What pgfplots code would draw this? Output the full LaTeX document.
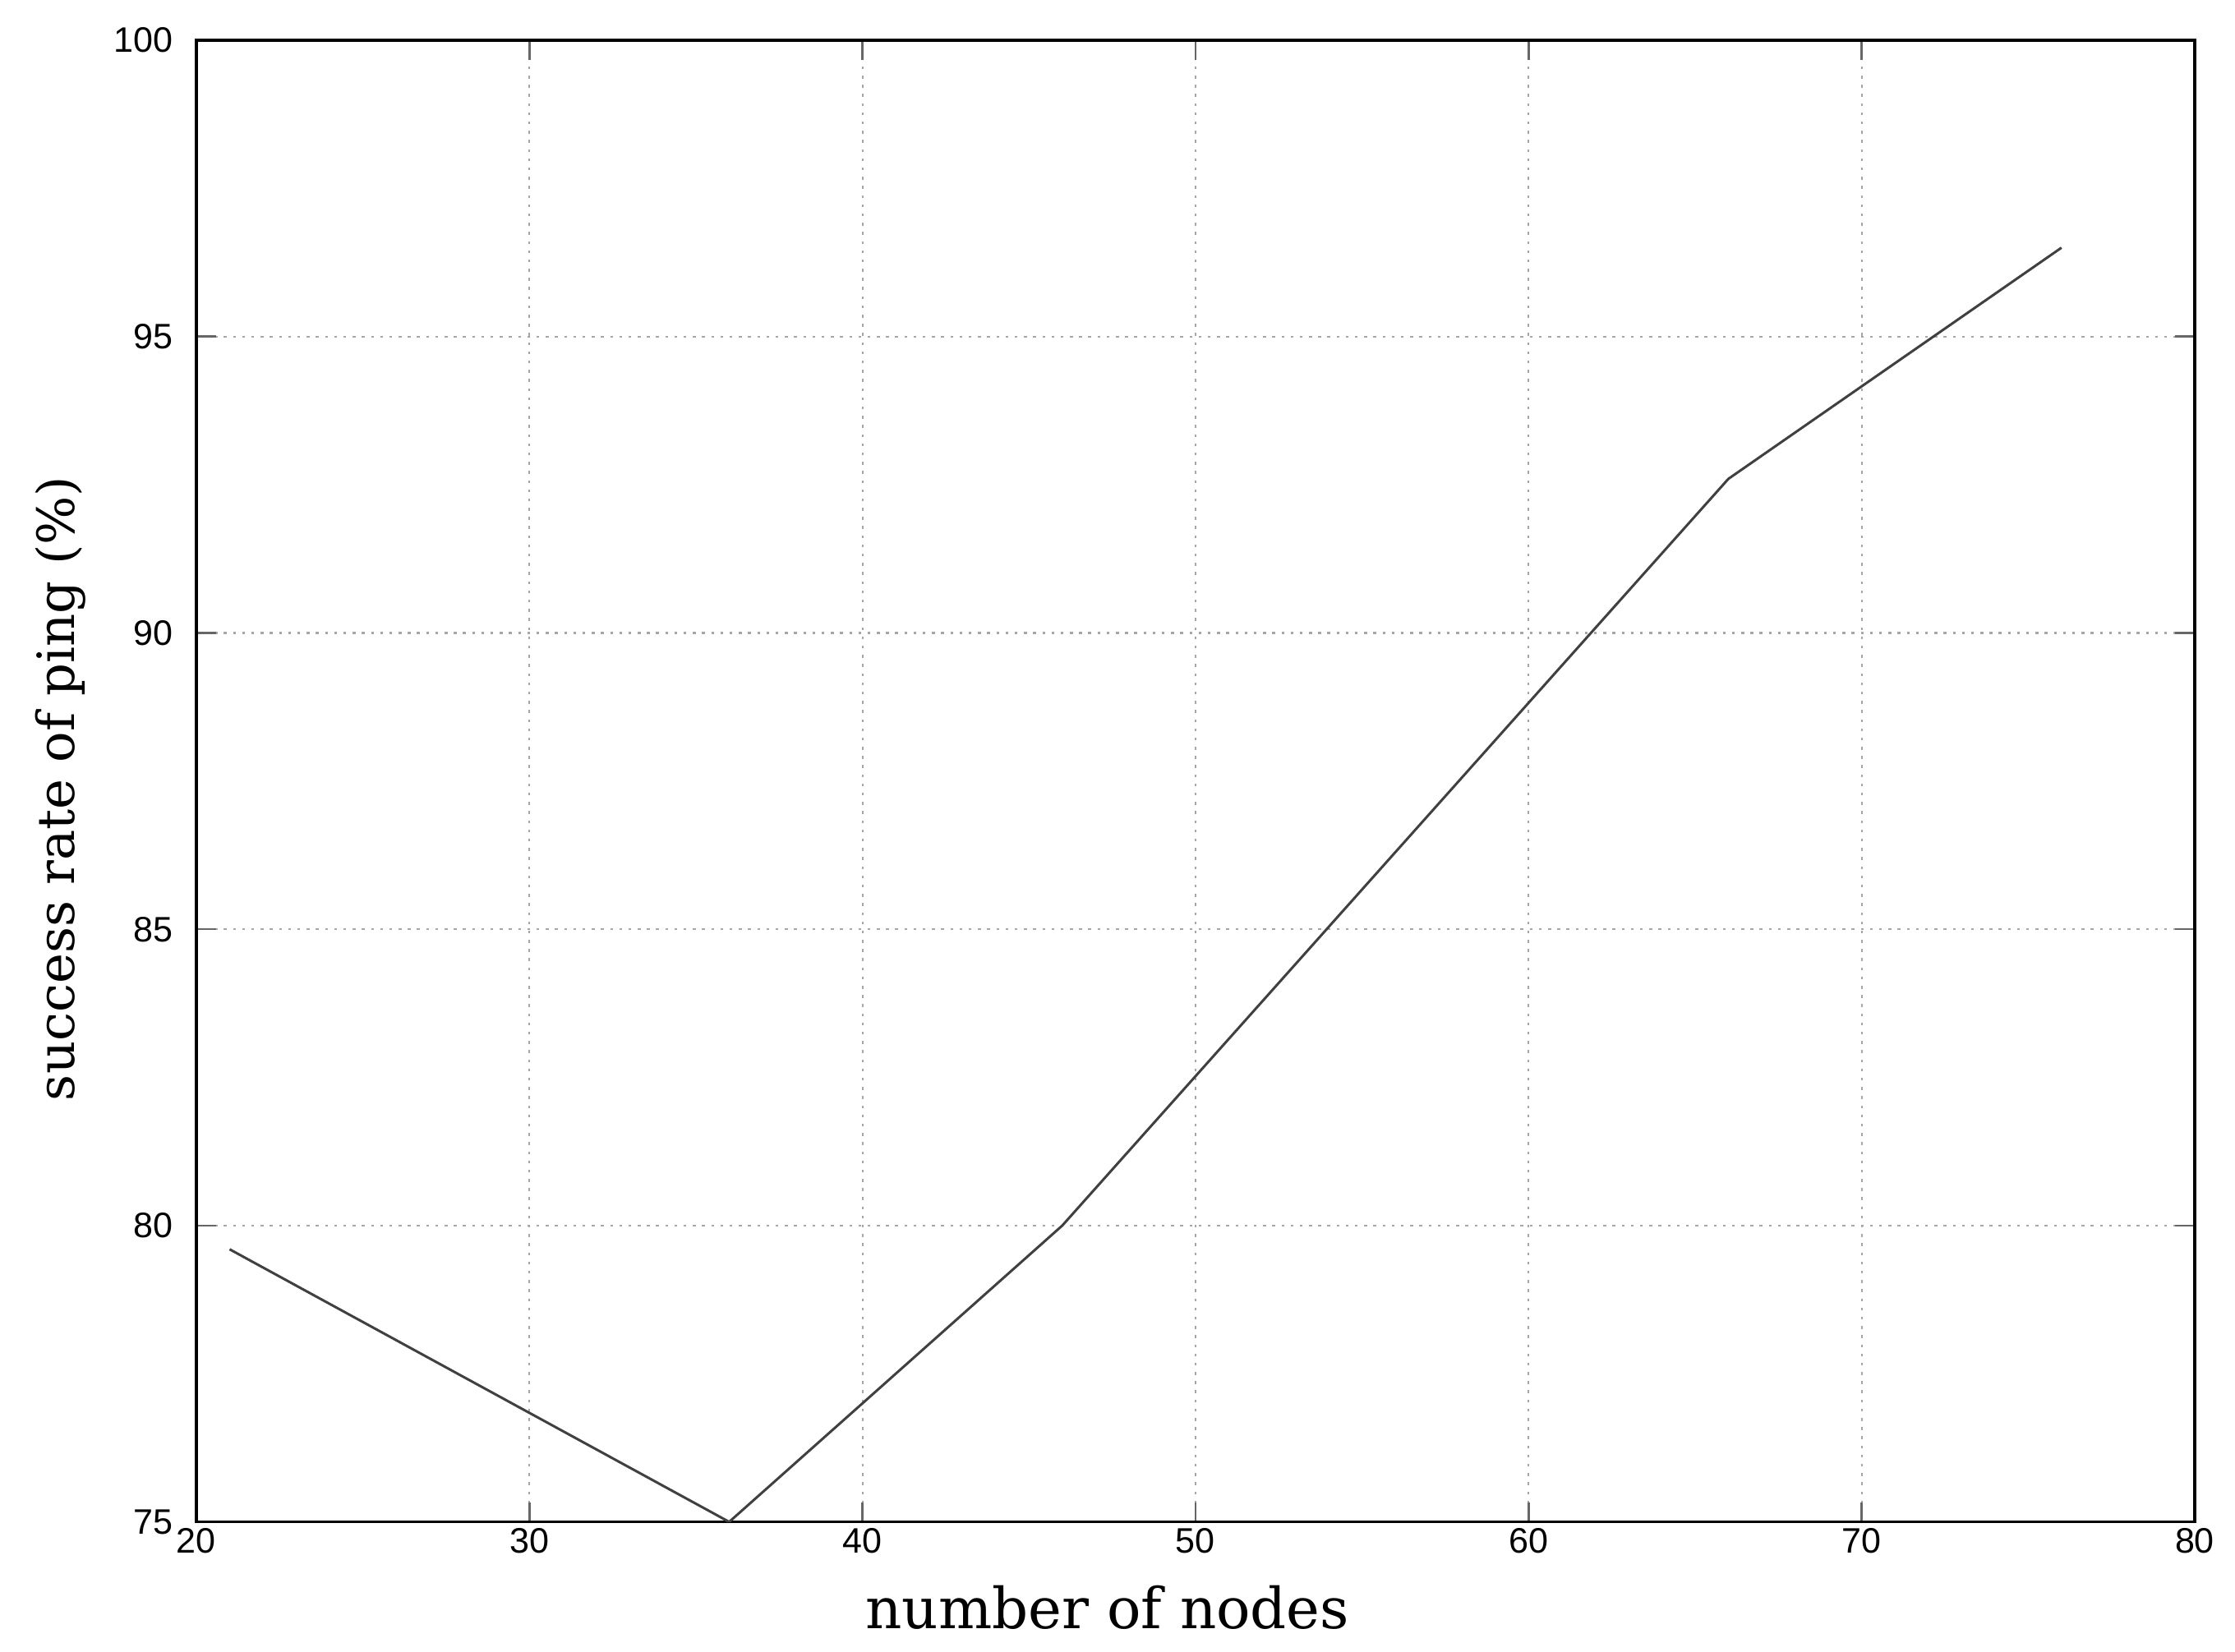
\documentclass[border=0pt]{standalone}
\usepackage{fontspec}
\setmainfont{DejaVu Serif}
\newfontfamily\tickfont{Liberation Sans}
\usepackage{pgfplots}
\pgfplotsset{compat=1.18}
\begin{document}
\begin{tikzpicture}
\begin{axis}[
  name=ax,
  scale only axis,
  width=565pt, height=419pt,
  xmin=20, xmax=80, ymin=75, ymax=100,
  xtick={20,30,...,80}, ytick={75,80,...,100},
  tick align=inside,
  major tick length=5.5pt,
  tick style={gray!80!black, line width=0.6pt},
  axis line style={black, line width=0.8pt},
  grid=major,
  major grid style={gray!70, line width=0.5pt, dash pattern=on 0.8pt off 1.8pt},
  /pgf/number format/assume math mode=true,
  ticklabel style={font=\tickfont\fontsize{10}{12}\selectfont},
  xticklabel style={yshift=1.7pt},
  yticklabel style={xshift=-3pt},
  xlabel={number of nodes},
  ylabel={success rate of ping (\%)},
  xlabel style={font=\fontsize{16}{19}\selectfont, at={(axis description cs:0.456,-0.0344)}, anchor=north},
  ylabel style={font=\fontsize{14.5}{17}\selectfont, at={(axis description cs:-0.049,0.495)}, anchor=south},
]
\addplot[black!75, line width=0.7pt, mark=none] coordinates {
  (21,79.6) (36,75.0) (46,80.0) (66,92.6) (76,96.5)
};
\end{axis}
\path ([xshift=-55.5pt,yshift=-36.7pt]ax.south west) rectangle ([xshift=11.4pt,yshift=11.4pt]ax.north east);
\end{tikzpicture}
\end{document}
